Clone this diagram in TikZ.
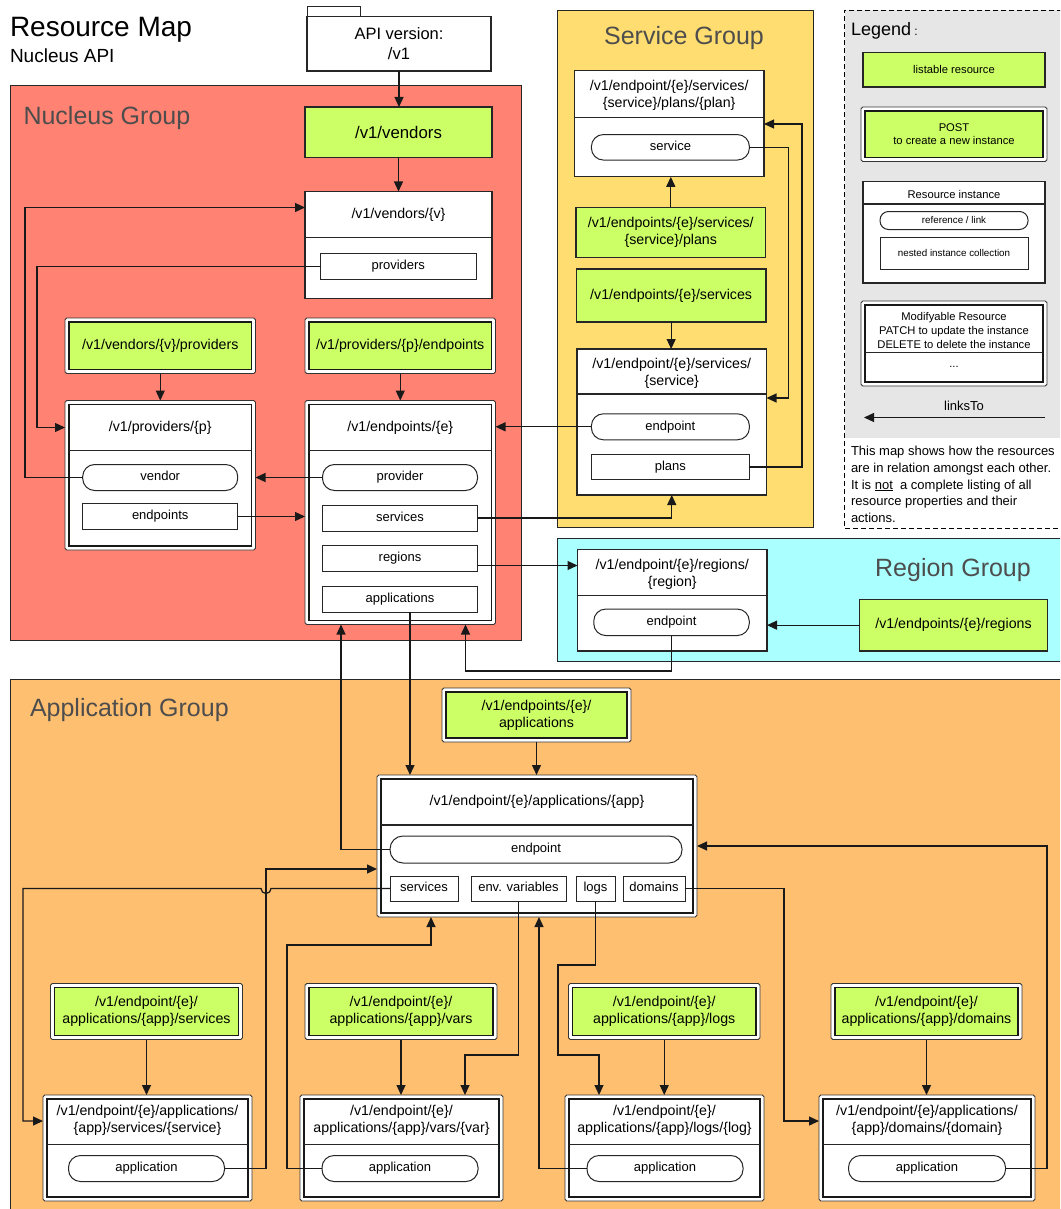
\documentclass[tikz,border=0pt]{standalone}
\usepackage{fontspec}
\setmainfont{Liberation Sans}
\usetikzlibrary{arrows.meta}
\newcommand\fsz[2]{\fontsize{#1}{#2}\selectfont}
\definecolor{nucleus}{HTML}{FF8272}
\definecolor{service}{HTML}{FFDD70}
\definecolor{region}{HTML}{AAFFFF}
\definecolor{appgrp}{HTML}{FFBF70}
\definecolor{listgreen}{HTML}{CCFF66}
\definecolor{legendgray}{HTML}{E6E6E6}
\definecolor{grptext}{HTML}{4D4D4D}
\begin{document}
\begin{tikzpicture}[x=1pt,y=-1pt,
  every node/.style={inner sep=0pt,outer sep=0pt},
  grp/.style={draw=black!85,line width=0.9pt},
  grplabel/.style={text=grptext,font=\fsz{25}{28}},
  listbox/.style={draw=black!85,line width=1.2pt,fill=listgreen,font=\fsz{14.2}{17},align=center},
  dbl/.style={draw=black!80,line width=0.9pt,rounded corners=1.8pt,fill=white,align=center,
    path picture={\draw[line width=1.6pt,draw=black!90,sharp corners,fill=#1]
      ([shift={(4pt,-4pt)}]path picture bounding box.north west) rectangle
      ([shift={(-4pt,4pt)}]path picture bounding box.south east);}},
  inst/.style={draw=black!85,line width=1.2pt,fill=white},
  hdr/.style={font=\fsz{14.2}{17},align=center},
  refnode/.style={draw=black!85,line width=1pt,fill=white,rounded corners=12pt,
    font=\fsz{13}{15},text height=9.5pt,text depth=2.8pt},
  coll/.style={draw=black!85,line width=1pt,fill=white,
    font=\fsz{13}{15},text height=9.5pt,text depth=2.8pt},
  divline/.style={draw=black!85,line width=1.1pt},
  link/.style={line width=1.25pt,draw=black!90,-{Triangle[length=10pt,width=9pt]}},
]
\useasboundingbox (0,0) rectangle (1060,1209);
\clip (0,0) rectangle (1060,1209);
\fill[white] (0,0) rectangle (1060,1209);

% ---------- titles ----------
\node[anchor=base west,font=\fsz{28}{32}] (title) at (10,37) {Resource Map};
\node[anchor=base west,font=\fsz{19}{22}] (subtitle) at (10,63) {Nucleus API};

% ---------- group backgrounds ----------
\draw[grp,fill=nucleus] (10,85.5) rectangle (521.5,640);
\draw[grp,fill=service] (557,10) rectangle (813,527);
\draw[grp,fill=region] (557,538.5) rectangle (1070,661);
\draw[grp,fill=appgrp] (10,679) rectangle (1070,1220);
\fill[legendgray] (844.5,10) rectangle (1070,438);
\draw[line width=0.9pt,dash pattern=on 5pt off 3pt] (1070,10) -- (844.5,10) -- (844.5,528) -- (1070,528);

\node[grplabel,anchor=base west] (nucLabel) at (23.5,125) {Nucleus Group};
\node[grplabel,anchor=base] (svcLabel) at (684,44.5) {Service Group};
\node[grplabel,anchor=base] (regLabel) at (953,576.5) {Region Group};
\node[grplabel,anchor=base west] (appLabel) at (30,716) {Application Group};

% ---------- API version ----------
\draw[line width=1pt,draw=black!85,fill=white] (307,7) rectangle (360,16.5);
\node[draw=black!85,line width=1.2pt,fill=white,minimum width=184pt,minimum height=54.5pt,
  font=\fsz{16.5}{19.5},align=center] (api) at (399,43.75) {API version:\\/v1};

% ---------- Nucleus group ----------
\node[listbox,font=\fsz{16.8}{19},minimum width=187pt,minimum height=50.5pt] (vendors) at (398.5,132.25) {/v1/vendors};

\node[inst,minimum width=187pt,minimum height=107pt] (vv) at (398.5,245) {};
\draw[divline] (vv.west |- 0,237.5) -- (vv.east |- 0,237.5);
\node[hdr] (vvH) at (398.5,214.5) {/v1/vendors/\{v\}};
\node[coll,minimum width=155.5pt,minimum height=25.5pt] (vvProv) at (398.25,266.25) {providers};

\node[dbl=listgreen,minimum width=190.5pt,minimum height=55.5pt,font=\fsz{14.2}{17}] (vpList) at (160.25,345.75) {/v1/vendors/\{v\}/providers};
\node[dbl=listgreen,minimum width=190.5pt,minimum height=55.5pt,font=\fsz{14.2}{17}] (epList) at (400.25,345.75) {/v1/providers/\{p\}/endpoints};

\node[dbl=white,minimum width=190.5pt,minimum height=149.5pt] (prov) at (160.25,475.25) {};
\draw[divline] (69,450.5) -- (251.5,450.5);
\node[hdr] (provH) at (160.25,427.5) {/v1/providers/\{p\}};
\node[refnode,minimum width=155pt,minimum height=26pt] (vendorRef) at (160.2,477.5) {vendor};
\node[coll,minimum width=155pt,minimum height=26.5pt] (provEps) at (160.2,516.5) {endpoints};

\node[dbl=white,minimum width=190.5pt,minimum height=224pt] (ep) at (400.25,512.5) {};
\draw[divline] (309,450.5) -- (491.5,450.5);
\node[hdr] (epH) at (400.25,427.5) {/v1/endpoints/\{e\}};
\node[refnode,minimum width=155pt,minimum height=26pt] (provRef) at (400,477.5) {provider};
\node[coll,minimum width=155pt,minimum height=26pt] (epSvc) at (400,518) {services};
\node[coll,minimum width=155pt,minimum height=26pt] (epReg) at (400,558) {regions};
\node[coll,minimum width=155pt,minimum height=26pt] (epApp) at (400,599) {applications};

% ---------- Service group ----------
\node[inst,minimum width=189.7pt,minimum height=106pt] (plan) at (669.15,123.8) {};
\draw[divline] (plan.west |- 0,117.7) -- (plan.east |- 0,117.7);
\node[hdr] (planH) at (669.15,95) {/v1/endpoint/\{e\}/services/\\\{service\}/plans/\{plan\}};
\node[refnode,minimum width=158pt,minimum height=25.5pt] (svcRef) at (670.4,147.3) {service};

\node[listbox,minimum width=189.6pt,minimum height=50.5pt] (plansList) at (670.8,232.5) {/v1/endpoints/\{e\}/services/\\\{service\}/plans};
\node[listbox,minimum width=189.7pt,minimum height=53pt] (svcList) at (671.15,295.5) {/v1/endpoints/\{e\}/services};

\node[inst,minimum width=189.5pt,minimum height=146pt] (svc) at (671.75,422) {};
\draw[divline] (svc.west |- 0,394) -- (svc.east |- 0,394);
\node[hdr] (svcH) at (671.75,373.5) {/v1/endpoint/\{e\}/services/\\\{service\}};
\node[refnode,minimum width=158pt,minimum height=26pt] (svcEpRef) at (670.4,426.8) {endpoint};
\node[coll,minimum width=158pt,minimum height=25.5pt] (svcPlans) at (670.4,467) {plans};

% ---------- Legend ----------
\node[anchor=base west,font=\fsz{18}{20}] (legTitle) at (851,35.5) {Legend{\fsz{12}{14}\ :}};
\node[listbox,font=\fsz{11.2}{13.5},minimum width=182pt,minimum height=34.5pt] (legList) at (954,69.75) {listable resource};
\node[dbl=listgreen,font=\fsz{11.2}{13.5},minimum width=186pt,minimum height=54.5pt] (legPost) at (954,134.25) {POST\\to create a new instance};
\node[inst,minimum width=182pt,minimum height=101.5pt] (legInst) at (954,232.25) {};
\draw[divline] (legInst.west |- 0,204) -- (legInst.east |- 0,204);
\node[font=\fsz{11.2}{13.5}] (legInstH) at (954,194.5) {Resource instance};
\node[refnode,font=\fsz{9.8}{12},text height=7.2pt,text depth=2.1pt,rounded corners=8.5pt,minimum width=148pt,minimum height=18pt] (legRef) at (954,220.5) {reference / link};
\node[coll,font=\fsz{9.8}{12},text height=7.2pt,text depth=2.1pt,minimum width=148pt,minimum height=32pt] (legColl) at (954,253.5) {nested instance collection};
\node[dbl=white,minimum width=186pt,minimum height=85pt] (legMod) at (954,343.5) {};
\draw[divline] (865,352.5) -- (1043,352.5);
\node[font=\fsz{11.2}{14},align=center] (legModH) at (954,330) {Modifyable Resource\\PATCH to update the instance\\DELETE to delete the instance};
\node[font=\fsz{11.2}{13}] (legDots) at (954,366.5) {...};
\coordinate (legLinkFrom) at (1045,417.5);
\coordinate (legLinkTo) at (864,417.5);
\draw[link] (legLinkFrom) -- (legLinkTo);
\node[font=\fsz{13}{15},anchor=base] (legLinkLbl) at (964,410.5) {linksTo};

\node[anchor=base west,font=\fsz{13}{17}] (legT1) at (851,455.5) {This map shows how the resources};
\node[anchor=base west,font=\fsz{13}{17}] (legT2) at (851,472.3) {are in relation amongst each other.};
\node[anchor=base west,font=\fsz{13}{17}] (legT3) at (851,489) {It is \underline{not}\ \ a complete listing of all};
\node[anchor=base west,font=\fsz{13}{17}] (legT4) at (851,505.8) {resource properties and their};
\node[anchor=base west,font=\fsz{13}{17}] (legT5) at (851,522.5) {actions.};

% ---------- Region group ----------
\node[inst,minimum width=189.5pt,minimum height=101.7pt] (region) at (672.25,600.15) {};
\draw[divline] (region.west |- 0,595.2) -- (region.east |- 0,595.2);
\node[hdr] (regionH) at (672.25,574) {/v1/endpoint/\{e\}/regions/\\\{region\}};
\node[refnode,minimum width=155.5pt,minimum height=26.5pt] (regEpRef) at (671.5,622.3) {endpoint};
\node[listbox,minimum width=188pt,minimum height=51.7pt] (regList) at (953.5,625.15) {/v1/endpoints/\{e\}/regions};

% ---------- Application group ----------
\node[dbl=listgreen,minimum width=189pt,minimum height=54pt,font=\fsz{14.2}{17}] (appList) at (536.5,715) {/v1/endpoints/\{e\}/\\applications};
\node[dbl=white,minimum width=320pt,minimum height=142pt] (app) at (537,846) {};
\draw[divline] (381,825) -- (693,825);
\node[hdr] (appH) at (537,802) {/v1/endpoint/\{e\}/applications/\{app\}};
\node[refnode,rounded corners=13pt,minimum width=292pt,minimum height=27pt] (appEpRef) at (536,849.5) {endpoint};
\node[coll,minimum width=68pt,minimum height=25pt] (appSvc) at (424,888.5) {services};
\node[coll,minimum width=95pt,minimum height=25pt] (appEnv) at (518.5,888.5) {env. variables};
\node[coll,minimum width=39pt,minimum height=25pt] (appLogs) at (595.5,888.5) {logs};
\node[coll,minimum width=62pt,minimum height=25pt] (appDom) at (654,888.5) {domains};

\node[dbl=listgreen,minimum width=192pt,minimum height=56pt,font=\fsz{14.2}{17}] (bsvcList) at (146.5,1011.5) {/v1/endpoint/\{e\}/\\applications/\{app\}/services};
\node[dbl=listgreen,minimum width=192pt,minimum height=56pt,font=\fsz{14.2}{17}] (bvarList) at (401,1011.5) {/v1/endpoint/\{e\}/\\applications/\{app\}/vars};
\node[dbl=listgreen,minimum width=191.5pt,minimum height=56pt,font=\fsz{14.2}{17}] (blogList) at (664.25,1011.5) {/v1/endpoint/\{e\}/\\applications/\{app\}/logs};
\node[dbl=listgreen,minimum width=191pt,minimum height=56pt,font=\fsz{14.2}{17}] (bdomList) at (926.5,1011.5) {/v1/endpoint/\{e\}/\\applications/\{app\}/domains};

\node[dbl=white,minimum width=209pt,minimum height=106pt] (bsvc) at (147.5,1148) {};
\draw[divline] (47,1144.5) -- (248,1144.5);
\node[hdr] (bsvcH) at (147.5,1120.5) {/v1/endpoint/\{e\}/applications/\\\{app\}/services/\{service\}};
\node[refnode,minimum width=156pt,minimum height=26pt] (bsvcRef) at (146.5,1168.5) {application};

\node[dbl=white,minimum width=203pt,minimum height=106pt] (bvar) at (401.5,1148) {};
\draw[divline] (304,1144.5) -- (499,1144.5);
\node[hdr] (bvarH) at (401.5,1120.5) {/v1/endpoint/\{e\}/\\applications/\{app\}/vars/\{var\}};
\node[refnode,minimum width=156pt,minimum height=26pt] (bvarRef) at (400,1168.5) {application};

\node[dbl=white,minimum width=199pt,minimum height=106pt] (blog) at (664.5,1148) {};
\draw[divline] (569,1144.5) -- (760,1144.5);
\node[hdr] (blogH) at (664.5,1120.5) {/v1/endpoint/\{e\}/\\applications/\{app\}/logs/\{log\}};
\node[refnode,minimum width=156pt,minimum height=26pt] (blogRef) at (665,1168.5) {application};

\node[dbl=white,minimum width=216pt,minimum height=106pt] (bdom) at (927,1148) {};
\draw[divline] (823,1144.5) -- (1031,1144.5);
\node[hdr] (bdomH) at (927,1120.5) {/v1/endpoint/\{e\}/applications/\\\{app\}/domains/\{domain\}};
\node[refnode,minimum width=157pt,minimum height=26pt] (bdomRef) at (927,1168.5) {application};

% ---------- connectors ----------
\draw[link] (api.south) -- (api.south |- vendors.north);
\draw[link] (vendors.south) -- (vendors.south |- vv.north);
\draw[link] (vvProv.west) -| (37,427.5) -- (prov.west |- provH);
\draw[link] (vendorRef.west) -| (25,207.5) -- (vv.west |- 0,207.5);
\draw[link] (provRef.west) -- (prov.east |- provRef.west);
\draw[link] (provEps.east) -- (ep.west |- provEps.east);
\draw[link] (vpList.south) -- (vpList.south |- prov.north);
\draw[link] (epList.south) -- (epList.south |- ep.north);

\draw[link] (plansList.north) -- (plansList.north |- plan.south);
\draw[link] (svcList.south) -- (svcList.south |- svc.north);
\draw[link] (svcRef.east) -| (788.5,398) -- (svc.east |- 0,398);
\draw[link] (svcPlans.east) -| (802,124) -- (plan.east |- 0,124);
\draw[link] (svcEpRef.west) -- (ep.east |- svcEpRef.west);
\draw[link] (epSvc.east) -| (svc.south);

\draw[link] ([yshift=-7.5pt]epReg.east) -- (region.west |- 0,565.5);
\draw[link] (regList.west) -- (region.east |- regList.west);
\draw[link] (regEpRef.south) |- (465.5,671) -- (ep.south -| 465.5,0);

\coordinate (appDrop) at ([xshift=10pt]epApp.south);
\draw[link] (appDrop) -- (appDrop |- app.north);
\draw[link] (appList.south) -- (appList.south |- app.north);
\draw[link] (appEpRef.west) -| (ep.south -| 341,0);

\draw[link] (appSvc.west) -- (271,888.5) arc[start angle=0,end angle=-180,radius=5pt] -- (23,888.5) |- (bsvc.west |- 0,1121);
\draw[link] (bsvcRef.east) -| (266,869) -- (app.west |- 0,869);
\draw[link] (appEnv.south) |- (465,1055) -- (bvar.north -| 465,0);
\draw[link] (bvarRef.west) -| (287,945) -| (app.south -| 431,0);
\draw[link] (appLogs.south) |- (558,965) |- (599,1055) -- (blog.north -| 599,0);
\draw[link] (blogRef.west) -| (app.south -| 539,0);
\draw[link] (appDom.east) -| (784,1121) -- (bdom.west |- 0,1121);
\draw[link] (bdomRef.east) -| (1047,846) -- (app.east |- 0,846);

\draw[link] (bsvcList.south) -- (bsvcList.south |- bsvc.north);
\draw[link] (bvarList.south) -- (bvarList.south |- bvar.north);
\draw[link] (blogList.south) -- (blogList.south |- blog.north);
\draw[link] (bdomList.south) -- (bdomList.south |- bdom.north);
\end{tikzpicture}
\end{document}
